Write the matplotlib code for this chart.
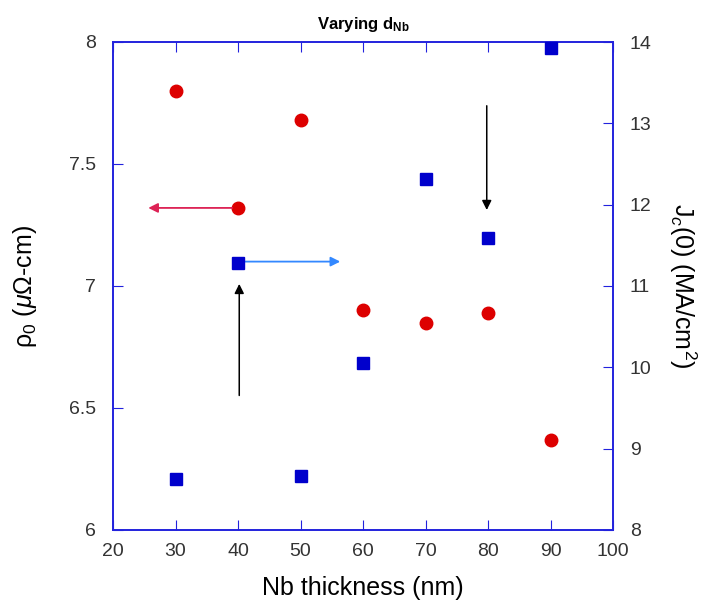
import matplotlib.pyplot as plt

plt.rcParams['font.family'] = ['Liberation Sans', 'DejaVu Sans']
plt.rcParams['mathtext.fontset'] = 'custom'
plt.rcParams['mathtext.rm'] = 'Liberation Sans'
plt.rcParams['mathtext.it'] = 'Liberation Sans:italic'
plt.rcParams['mathtext.bf'] = 'Liberation Sans:bold'

thickness = [30, 40, 50, 60, 70, 80, 90]
rho0 = [7.80, 7.32, 7.68, 6.90, 6.85, 6.89, 6.37]
jc0 = [8.63, 11.28, 8.66, 10.05, 12.31, 11.59, 13.93]

fig = plt.figure(figsize=(7.09, 6.07), dpi=100)
ax = fig.add_axes([113/709, 77/607, 500/709, 488/607])
ax2 = ax.twinx()

ax.plot(thickness, rho0, 'o', color='#dd0000', markersize=9, clip_on=False, zorder=3)
ax2.plot(thickness, jc0, 's', color='#0000cc', markersize=9, clip_on=False, zorder=3)

ax.set_xlim(20, 100)
ax.set_ylim(6, 8)
ax2.set_ylim(8, 14)
ax.set_xticks(range(20, 101, 10))
ax.set_yticks([6, 6.5, 7, 7.5, 8])
ax.set_yticklabels(['6', '6.5', '7', '7.5', '8'])
ax2.set_yticks(range(8, 15))

for a in (ax, ax2):
    for s in a.spines.values():
        s.set_color('#2222dd')
        s.set_linewidth(1.2)
ax.tick_params(axis='x', direction='in', top=True, length=7, color='#2222dd',
               labelsize=14, labelcolor='#333333', pad=9)
ax.tick_params(axis='y', direction='in', length=7, color='#2222dd',
               labelsize=14, labelcolor='#333333', pad=12)
ax2.tick_params(axis='y', direction='in', length=7, color='#2222dd',
                labelsize=14, labelcolor='#333333', pad=12)

# arrows
ax.annotate('', xy=(25.2, 7.32), xytext=(39.5, 7.32),
            arrowprops=dict(arrowstyle='-|>', color='#dd2255', lw=1.3, mutation_scale=14))
ax.annotate('', xy=(56.8, 7.1), xytext=(40.5, 7.1),
            arrowprops=dict(arrowstyle='-|>', color='#3388ff', lw=1.3, mutation_scale=14))
ax.annotate('', xy=(40.2, 7.02), xytext=(40.2, 6.54),
            arrowprops=dict(arrowstyle='-|>', color='black', lw=1.1, mutation_scale=14))
ax.annotate('', xy=(79.8, 7.30), xytext=(79.8, 7.75),
            arrowprops=dict(arrowstyle='-|>', color='black', lw=1.1, mutation_scale=14))

ax.set_xlabel('Nb thickness (nm)', fontsize=18, labelpad=12)
ax.set_ylabel(r'ρ$_0$ ($\mu$Ω-cm)', fontsize=18, labelpad=22)
ax2.set_ylabel(r'J$_c$(0) (MA/cm$^2$)', fontsize=18, rotation=270, labelpad=34)
ax.set_title(r'Varying d$_{\mathbf{Nb}}$', fontsize=12, fontweight='bold', pad=9)

fig.savefig('out.png', dpi=100)
